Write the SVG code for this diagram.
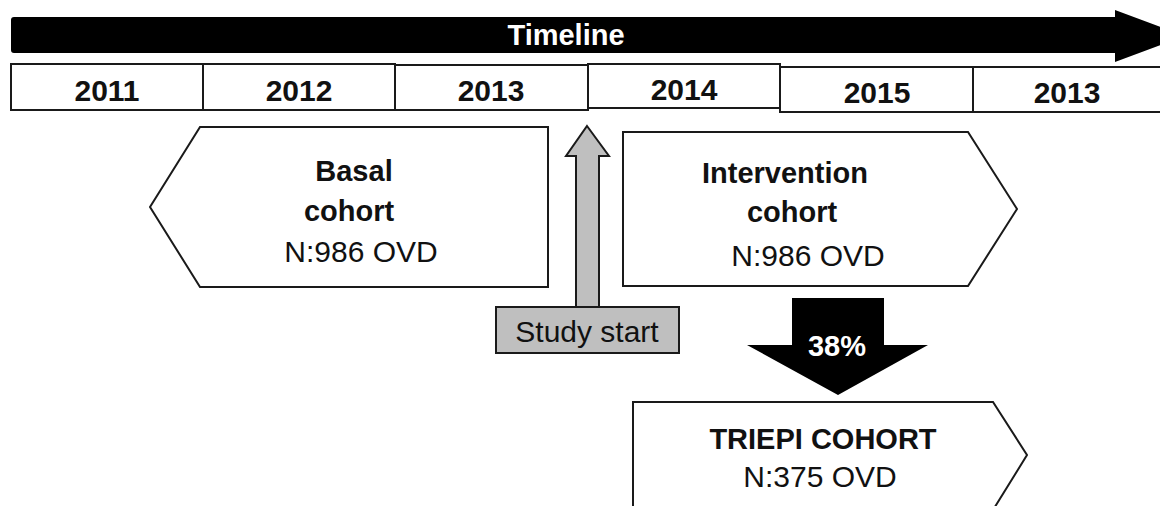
<svg xmlns="http://www.w3.org/2000/svg" width="1160" height="506" viewBox="0 0 1160 506">
  <style>
    .cell { fill: #fff; stroke: #1a1a1a; stroke-width: 2; }
    .box { fill: #fff; stroke: #1a1a1a; stroke-width: 2; stroke-linejoin: miter; }
    .t { font-family: "Liberation Sans", Arial, sans-serif; text-anchor: middle; fill: #111; }
    .yr { font-size: 30px; font-weight: bold; }
    .b { font-size: 29px; font-weight: bold; }
    .r { font-size: 30px; }
    .w { fill: #fff; }
  </style>
  <rect width="1160" height="506" fill="#fff"/>

  <g id="timeline">
    <path d="M14,17 H1115 V10 L1185,36 L1115,62 V53 H14 Q11,53 11,50 V20 Q11,17 14,17 Z" fill="#000"/>
    <text class="t b w" x="566" y="45">Timeline</text>
  </g>

  <g id="years">
    <g id="y2011"><rect class="cell" x="11" y="64" width="192" height="46"/><text class="t yr" x="107" y="101">2011</text></g>
    <g id="y2012"><rect class="cell" x="203" y="64" width="192" height="46"/><text class="t yr" x="299" y="101">2012</text></g>
    <g id="y2013a"><rect class="cell" x="395" y="65" width="193" height="45"/><text class="t yr" x="491" y="101">2013</text></g>
    <g id="y2014"><rect class="cell" x="588" y="64" width="192" height="44"/><text class="t yr" x="684" y="100">2014</text></g>
    <g id="y2015"><rect class="cell" x="780" y="67" width="193" height="45"/><text class="t yr" x="877" y="103">2015</text></g>
    <g id="y2013b"><rect class="cell" x="973" y="67" width="200" height="45"/><text class="t yr" x="1067" y="103">2013</text></g>
  </g>

  <g id="basal">
    <polygon class="box" points="200,127 548,127 548,287 200,287 150,207"/>
    <text class="t b" x="354" y="181">Basal</text>
    <text class="t b" x="349" y="221">cohort</text>
    <text class="t r" x="361" y="262">N:986 OVD</text>
  </g>

  <g id="intervention">
    <polygon class="box" points="623,132 968,132 1017,209 968,286 623,286"/>
    <text class="t b" x="785" y="183">Intervention</text>
    <text class="t b" x="792" y="222">cohort</text>
    <text class="t r" x="808" y="266">N:986 OVD</text>
  </g>

  <g id="study-start">
    <path d="M587,126 L609,156 H599 V307 H576 V156 H566 Z" fill="#bfbfbf" stroke="#1a1a1a" stroke-width="2" stroke-linejoin="miter"/>
    <rect x="496" y="307" width="183" height="46" fill="#bfbfbf" stroke="#1a1a1a" stroke-width="2"/>
    <text class="t r" x="587" y="342">Study start</text>
  </g>

  <g id="connectors">
    <path d="M792,298 H884 V345 H928 L838,395 L747,345 H792 Z" fill="#000"/>
    <text class="t b w" x="837" y="356">38%</text>
  </g>

  <g id="triepi">
    <polyline class="box" points="633,510 633,402 993,402 1027,455 993,510"/>
    <text class="t b" x="823" y="449">TRIEPI COHORT</text>
    <text class="t r" x="820" y="487">N:375 OVD</text>
  </g>
</svg>
